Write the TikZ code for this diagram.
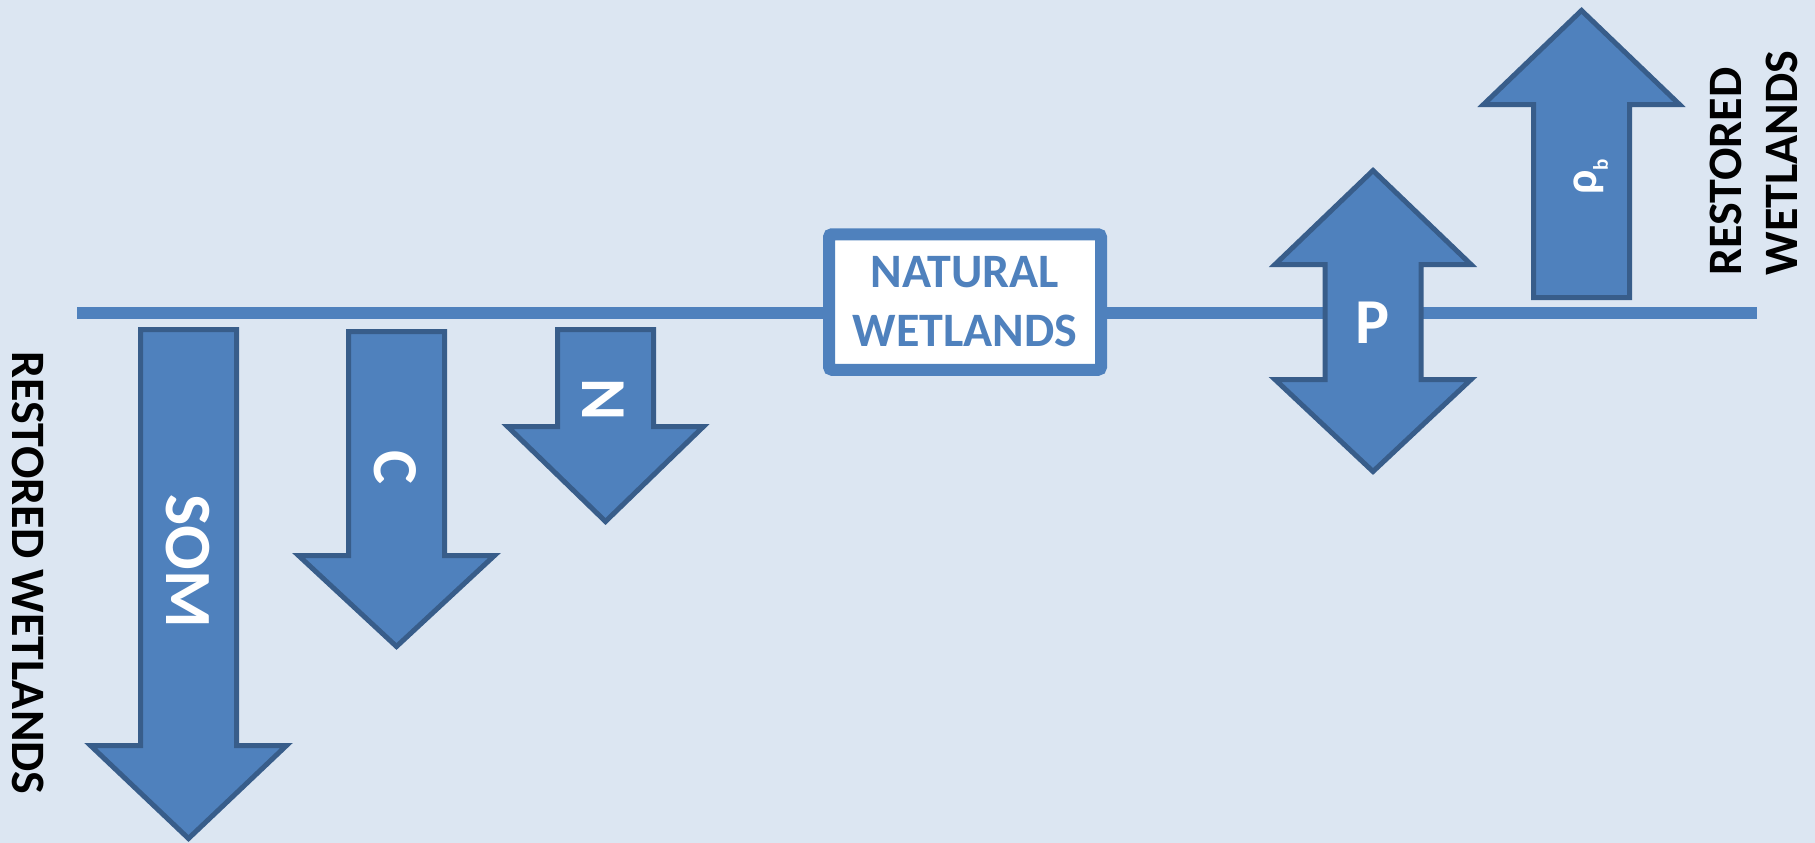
\documentclass[tikz,border=0pt]{standalone}
\usepackage{fontspec}
\setmainfont{Carlito}
\definecolor{bg}{HTML}{DCE6F2}
\definecolor{afill}{HTML}{4F81BD}
\definecolor{aline}{HTML}{385D8A}
\tikzset{
  arrowshape/.style={fill=afill, draw=aline, line width=5pt, miter limit=10},
  lbl/.style={text=white, font=\bfseries\fontsize{64}{64}\selectfont, inner sep=0pt},
  sidelbl/.style={text=black, font=\bfseries\fontsize{48}{56}\selectfont, inner sep=0pt, align=left},
}
\newcommand\dnarr[4]{\draw[arrowshape] ({#1-48},#2) -- ({#1+48},#2) -- ({#1+48},#3) -- ({#1+98},#3) -- (#1,#4) -- ({#1-98},#3) -- ({#1-48},#3) -- cycle;}
\begin{document}
\begin{tikzpicture}[x=1pt,y=-1pt]
\path[fill=bg] (0,0) rectangle (1815,843);
\useasboundingbox (0,0) rectangle (1815,843);
% baseline
\coordinate (L) at (77,313);
\coordinate (R) at (1757,313);
\draw[afill, line width=12pt] (L) -- (R);
% down arrows
\dnarr{188.5}{329.5}{745.5}{838.5}
\dnarr{396.5}{331.5}{555.5}{646.5}
\dnarr{605.5}{329.5}{426.5}{521.5}
% double arrow P
\draw[arrowshape] (1373,170.5) -- (1471,264.5) -- (1421,264.5) -- (1421,379.5) -- (1471,379.5) -- (1373,471.5) -- (1275,379.5) -- (1325,379.5) -- (1325,264.5) -- (1275,264.5) -- cycle;
% up arrow rho_b
\draw[arrowshape] (1581.5,10.5) -- (1679.5,104.5) -- (1629.5,104.5) -- (1629.5,297.5) -- (1533.5,297.5) -- (1533.5,104.5) -- (1483.5,104.5) -- cycle;
% box
\node[draw=afill, line width=12pt, fill=white, rounded corners=3pt, minimum width=272pt, minimum height=135.5pt, text=afill, font=\bfseries\fontsize{48}{59}\selectfont, align=center, inner sep=0pt] (nw) at (965,302) {NATURAL\\WETLANDS};
% labels
\node[lbl, rotate=-90, font=\bfseries\fontsize{66}{66}\selectfont] (som) at (188,561) {SOM};
\node[lbl, rotate=-90] (c) at (395,467) {C};
\node[lbl, rotate=-90] (n) at (603,400) {N};
\node[lbl] (p) at (1373,323) {P};
\node[text=white, inner sep=0pt, rotate=90, font=\bfseries] (rho) at (1591,177) {\fontsize{46}{46}\selectfont ρ\raisebox{-11pt}{\fontsize{21}{21}\selectfont b}};
\node[sidelbl, rotate=90] (rw1) at (1754,163) {RESTORED\\WETLANDS};
\node[sidelbl, rotate=-90] (rw2) at (28,573) {RESTORED WETLANDS};
\end{tikzpicture}
\end{document}
